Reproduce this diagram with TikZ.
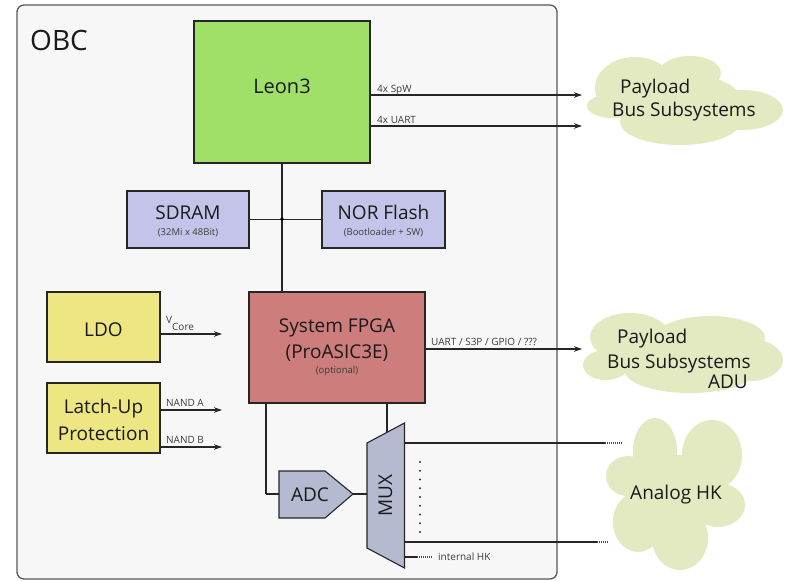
\documentclass[tikz,border=0pt]{standalone}
\usepackage{fontspec}
\setmainfont{Open Sans}
\usetikzlibrary{arrows.meta}
\definecolor{framebg}{HTML}{F7F7F7}
\definecolor{frameln}{HTML}{5A5A5A}
\definecolor{leonc}{HTML}{A0E068}
\definecolor{memc}{HTML}{C4C4EA}
\definecolor{pwrc}{HTML}{EDE682}
\definecolor{fpgac}{HTML}{CD7D7C}
\definecolor{anac}{HTML}{B5BAD0}
\definecolor{cloudc}{HTML}{E3E9C1}
\definecolor{txt}{HTML}{1A1A1A}
\begin{document}
\begin{tikzpicture}[x=1pt,y=-1pt,
  blk/.style={draw=black!85, line width=1.1pt, inner sep=0pt, rectangle},
  conn/.style={line width=1.1pt, draw=black!85},
  arr/.style={conn, -{Stealth[length=8pt,width=5.5pt]}},
  big/.style={text=txt, font=\fontsize{19}{22}\selectfont, anchor=base, inner sep=0pt},
  small/.style={text=txt!85, font=\fontsize{10}{12}\selectfont, anchor=base, inner sep=0pt},
  tiny/.style={text=txt!85, font=\fontsize{9.5}{11}\selectfont, anchor=base, inner sep=0pt},
  dotln/.style={line width=1.1pt, draw=black!70, dash pattern=on 1pt off 1pt}
]
\useasboundingbox (0,0) rectangle (788,581);
\fill[white] (0,0) rectangle (788,581);

% frame
\node[draw=frameln, line width=1.3pt, fill=framebg, rounded corners=7pt,
      minimum width=540pt, minimum height=574pt, inner sep=0pt] (obc) at (287,292) {};
\node[text=txt, font=\fontsize{28}{32}\selectfont, anchor=base west, inner sep=0pt] (obct) at (30,50) {OBC};

% Leon3
\node[blk, fill=leonc, minimum width=176pt, minimum height=142pt] (leon) at (282,92) {};
\node[big, font=\fontsize{20}{24}\selectfont] (leont) at (282,93) {Leon3};

% memories
\node[blk, fill=memc, minimum width=122pt, minimum height=57pt] (sdram) at (188,219.5) {};
\node[big] (sdramt) at (188,219) {SDRAM};
\node[tiny] (sdrams) at (188,235) {(32Mi x 48Bit)};
\node[blk, fill=memc, minimum width=123pt, minimum height=57pt] (nor) at (383.5,219.5) {};
\node[big] (nort) at (383.5,219) {NOR Flash};
\node[tiny] (nors) at (383.5,235) {(Bootloader + SW)};

% power
\node[blk, fill=pwrc, minimum width=113pt, minimum height=70pt] (ldo) at (103.5,327) {};
\node[big] (ldot) at (103.5,336) {LDO};
\node[blk, fill=pwrc, minimum width=113pt, minimum height=70pt] (lup) at (103.5,418) {};
\node[big] (lupt1) at (103.5,413) {Latch-Up};
\node[big] (lupt2) at (103.5,440) {Protection};

% FPGA
\node[blk, fill=fpgac, minimum width=176pt, minimum height=111pt] (fpga) at (337,347.5) {};
\node[big] (fpgat1) at (337,332) {System FPGA};
\node[big] (fpgat2) at (337,358) {(ProASIC3E)};
\node[tiny] (fpgat3) at (337,373) {(optional)};

% bus Leon3 - FPGA
\coordinate (j) at (282,219);
\draw[conn] (leon.south) -- (leon.south |- fpga.north);
\draw[conn] (sdram.east) -- (nor.west);
\fill[black] (j) circle (1.8pt);

% Leon3 outputs
\coordinate (spw) at (582,95);
\coordinate (uart) at (582,126);
\draw[arr] (spw -| leon.east) -- (spw);
\draw[arr] (uart -| leon.east) -- (uart);
\node[small, anchor=base west] (spwl) at (377,92) {4x SpW};
\node[small, anchor=base west] (uartl) at (377,123) {4x UART};

% LDO / latch-up outputs
\coordinate (vc) at (222,334);
\coordinate (na) at (222,410);
\coordinate (nb) at (222,447);
\draw[arr] (vc -| ldo.east) -- (vc);
\draw[arr] (na -| lup.east) -- (na);
\draw[arr] (nb -| lup.east) -- (nb);
\node[small, anchor=base west] (vcl) at (166,323.5) {V\raisebox{-6.5pt}{Core}};
\node[small, anchor=base west] (nal) at (166,406.5) {NAND A};
\node[small, anchor=base west] (nbl) at (166,443.5) {NAND B};

% FPGA output
\coordinate (fo) at (582,349);
\draw[arr] (fo -| fpga.east) -- (fo);
\node[small, anchor=base west] (fol) at (431,345.5) {UART / S3P / GPIO / ???};

% ADC
\coordinate (adcl) at (279,494);
\coordinate (adcr) at (353,494);
\filldraw[fill=anac, draw=black!85, line width=1.1pt]
  (279,471) -- (325,471) -- (adcr) -- (325,518) -- (279,518) -- cycle;
\node[big] (adc) at (310,501.5) {ADC};

% MUX
\coordinate (muxl) at (367,494);
\coordinate (muxtop) at (387,432);
\filldraw[fill=anac, draw=black!85, line width=1.1pt]
  (367,443) -- (404.5,423) -- (404.5,568) -- (367,548) -- cycle;
\node[text=txt, font=\fontsize{19}{22}\selectfont, rotate=90, inner sep=0pt] (mux) at (385.5,495.5) {MUX};

\draw[conn] (adcl -| 266,0) coordinate (adcin) |- (adcl);
\draw[conn] (266,0 |- fpga.south) -- (adcin);
\draw[conn] (muxtop |- fpga.south) -- (muxtop);
\draw[conn] (adcr) -- (muxl);

% MUX outputs
\coordinate (h1) at (605,443);
\coordinate (h2) at (597,542);
\coordinate (ih) at (417,557);
\draw[conn] (404.5,443) -- (h1);
\draw[dotln] (h1) -- (622,443);
\draw[conn] (404.5,542) -- (h2);
\draw[dotln] (h2) -- (609,542);
\draw[conn] (404.5,557) -- (ih);
\draw[dotln] (ih) -- (433,557);
\node[small, anchor=base west] (ihl) at (438,560.5) {internal HK};
\foreach \k in {0,...,8} \fill[black!80] (420,462+8.75*\k) circle (1.1pt);

% clouds
\begin{scope}[cloudc]
\fill (635,88) ellipse [x radius=40pt, y radius=31pt];
\fill (690,73) ellipse [x radius=31pt, y radius=17pt];
\fill (742,110) ellipse [x radius=41pt, y radius=20pt];
\fill (680,122) ellipse [x radius=60pt, y radius=23pt];
\fill (612,106) ellipse [x radius=25pt, y radius=12pt];
\fill (690,100) ellipse [x radius=50pt, y radius=25pt];

\fill (630,337) ellipse [x radius=40pt, y radius=24pt];
\fill (710,338) ellipse [x radius=55pt, y radius=22pt];
\fill (750,360) ellipse [x radius=33pt, y radius=21pt];
\fill (690,371) ellipse [x radius=65pt, y radius=22pt];
\fill (606,365) ellipse [x radius=23pt, y radius=15pt];
\fill (680,352) ellipse [x radius=60pt, y radius=25pt];

\fill (655,451) ellipse [x radius=22pt, y radius=33pt];
\fill (712,455) ellipse [x radius=30pt, y radius=35pt];
\fill (628,476) ellipse [x radius=22pt, y radius=20pt];
\fill (718,505) ellipse [x radius=27pt, y radius=22pt];
\fill (638,522) ellipse [x radius=25pt, y radius=30pt];
\fill (680,538) ellipse [x radius=28pt, y radius=32pt];
\fill (676,495) ellipse [x radius=45pt, y radius=40pt];
\end{scope}
\node[big, anchor=base west] (c1a) at (620,93) {Payload};
\node[big, anchor=base west] (c1b) at (612,116) {Bus Subsystems};
\node[big, anchor=base west] (c2a) at (617,343) {Payload};
\node[big, anchor=base west] (c2b) at (607,368) {Bus Subsystems};
\node[big, anchor=base east] (c2c) at (748,388) {ADU};
\node[big] (c3) at (676,499) {Analog HK};
\end{tikzpicture}
\end{document}
